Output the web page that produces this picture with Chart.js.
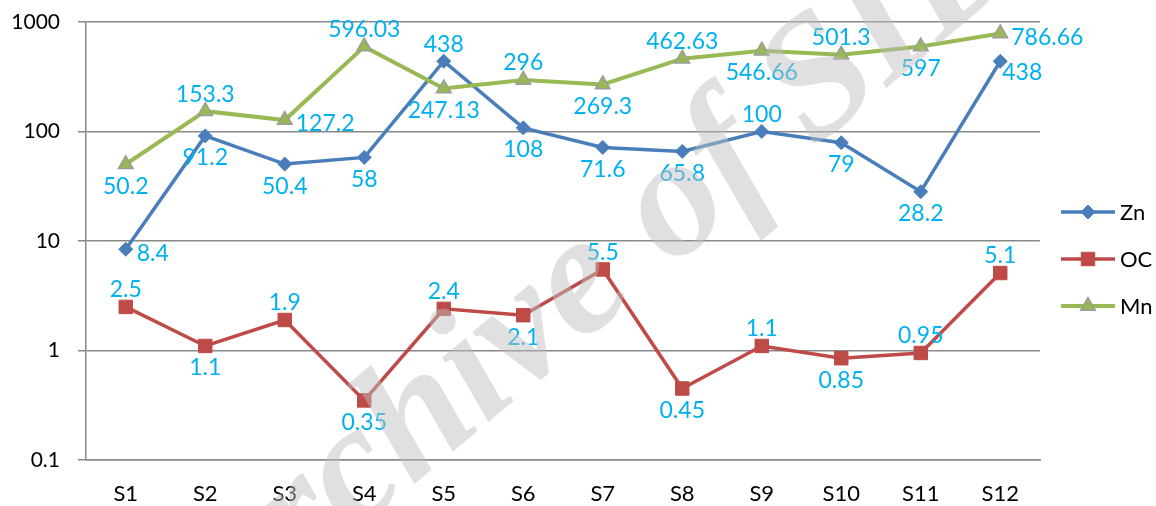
<!DOCTYPE html>
<html lang="en">
<head>
<meta charset="UTF-8">
<title>Zn, OC and Mn by site</title>
<style>
    body { margin: 0; background: #fff; }
    #wrap { width: 1156px; height: 506px; }
</style>
</head>
<body>
<div id="wrap"><canvas id="chart" width="1156" height="506"></canvas></div>
<script src="https://cdn.jsdelivr.net/npm/chart.js"></script>
<script>
// data
const sites = ['S1', 'S2', 'S3', 'S4', 'S5', 'S6', 'S7', 'S8', 'S9', 'S10', 'S11', 'S12'];
const zn = [8.4, 91.2, 50.4, 58, 438, 108, 71.6, 65.8, 100, 79, 28.2, 438];
const oc = [2.5, 1.1, 1.9, 0.35, 2.4, 2.1, 5.5, 0.45, 1.1, 0.85, 0.95, 5.1];
const mn = [50.2, 153.3, 127.2, 596.03, 247.13, 296, 269.3, 462.63, 546.66, 501.3, 597, 786.66];
const yTicks = [0.1, 1, 10, 100, 1000];

// where each value label sits (a = above, b = below, r = right, br = below right)
const labelPlace = [
    ['r', 'b', 'b', 'b', 'a', 'b', 'b', 'b', 'a', 'b', 'b', 'br'],
    ['a', 'b', 'a', 'b', 'a', 'b', 'a', 'b', 'a', 'b', 'a', 'a'],
    ['b', 'a', 'r', 'a', 'b', 'a', 'b', 'a', 'b', 'a', 'b', 'r']
];

const FONT = 'Lato, "Open Sans", sans-serif';
const LABEL_BLUE = '#00B0F0';
const GRID = '#888888';

// value labels
const valueLabels = {
    id: 'valueLabels',
    afterDatasetsDraw(chart) {
        const ctx = chart.ctx;
        ctx.save();
        ctx.font = '23px ' + FONT;
        ctx.fillStyle = LABEL_BLUE;
        ctx.textBaseline = 'middle';
        chart.data.datasets.forEach((ds, i) => {
            const meta = chart.getDatasetMeta(i);
            meta.data.forEach((pt, j) => {
                const place = labelPlace[i][j];
                let x = pt.x, y = pt.y;
                ctx.textAlign = 'center';
                if (place === 'a') y -= 17;
                else if (place === 'b') y += 22;
                else if (place === 'r') { ctx.textAlign = 'left'; x += 11; y += 4; }
                else if (place === 'br') { x += 22; y += 11; }
                ctx.fillText(String(ds.data[j]), x, y);
            });
        });
        ctx.restore();
    }
};

// legend on the right, line + marker like the original
const sideLegend = {
    id: 'sideLegend',
    afterDraw(chart) {
        const ctx = chart.ctx;
        const x0 = chart.chartArea.right + 21;
        ctx.save();
        chart.data.datasets.forEach((ds, i) => {
            const y = 212 + i * 47;
            ctx.strokeStyle = ds.borderColor;
            ctx.lineWidth = ds.borderWidth;
            ctx.beginPath();
            ctx.moveTo(x0, y);
            ctx.lineTo(x0 + 54, y);
            ctx.stroke();
            ctx.fillStyle = ds.pointBackgroundColor;
            ctx.strokeStyle = ds.pointBorderColor;
            ctx.lineWidth = ds.pointBorderWidth;
            Chart.helpers.drawPoint(ctx, {
                pointStyle: ds.pointStyle,
                radius: ds.pointRadius,
                borderWidth: ds.pointBorderWidth,
                rotation: 0
            }, x0 + 27, y);
            ctx.fillStyle = '#000';
            ctx.font = '22px ' + FONT;
            ctx.textAlign = 'left';
            ctx.textBaseline = 'middle';
            ctx.fillText(ds.label, x0 + 59, y + 1);
        });
        ctx.restore();
    }
};

// faint watermark across the picture
const watermark = {
    id: 'watermark',
    afterDraw(chart) {
        const ctx = chart.ctx;
        ctx.save();
        ctx.translate(214, 652);
        ctx.rotate(-40 * Math.PI / 180);
        ctx.font = 'italic bold 172px "Liberation Serif", serif';
        ctx.fillStyle = 'rgba(190, 190, 190, 0.48)';
        ctx.textAlign = 'left';
        ctx.textBaseline = 'alphabetic';
        ctx.fillText('Archive of SID', 0, 0);
        ctx.restore();
    }
};

new Chart(document.getElementById('chart'), {
    type: 'line',
    data: {
        labels: sites,
        datasets: [{
            label: 'Zn',
            data: zn,
            order: 2,
            borderColor: '#4A7EBB',
            borderWidth: 3.5,
            pointStyle: 'rectRot',
            pointRadius: 7,
            pointBackgroundColor: '#4A7EBB',
            pointBorderColor: '#4A7EBB',
            pointBorderWidth: 1
        }, {
            label: 'OC',
            data: oc,
            order: 1,
            borderColor: '#BE4B48',
            borderWidth: 3.5,
            pointStyle: 'rect',
            pointRadius: 9.5,
            pointBackgroundColor: '#BE4B48',
            pointBorderColor: '#BE4B48',
            pointBorderWidth: 1
        }, {
            label: 'Mn',
            data: mn,
            order: 0,
            borderColor: '#98B954',
            borderWidth: 4,
            pointStyle: 'triangle',
            pointRadius: 8.5,
            pointBackgroundColor: '#98B954',
            pointBorderColor: '#9C9C9C',
            pointBorderWidth: 1.5
        }]
    },
    options: {
        responsive: false,
        animation: false,
        devicePixelRatio: 1,
        layout: { padding: { top: 22, right: 116, bottom: 0, left: 0 } },
        elements: { line: { tension: 0 } },
        plugins: {
            legend: { display: false },
            tooltip: { enabled: false },
            title: { display: false }
        },
        scales: {
            x: {
                offset: true,
                grid: { display: false },
                border: { display: true, color: GRID, width: 1.5 },
                ticks: { color: '#000', font: { family: FONT, size: 22 }, padding: 13, maxRotation: 0 },
                afterFit(s) { s.height = 46; }
            },
            y: {
                type: 'logarithmic',
                min: 0.1,
                max: 1000,
                afterBuildTicks(s) { s.ticks = yTicks.map(v => ({ value: v })); },
                grid: { color: GRID, lineWidth: 1.5, tickLength: 8 },
                border: { display: true, color: GRID, width: 1.5 },
                ticks: {
                    color: '#000',
                    font: { family: FONT, size: 21 },
                    padding: 18,
                    callback: v => String(v)
                },
                afterFit(s) {
                    s.width = 86;
                    s.paddingTop = 0;
                    s.paddingBottom = 0;
                }
            }
        }
    },
    plugins: [valueLabels, sideLegend, watermark]
});
</script>
</body>
</html>
